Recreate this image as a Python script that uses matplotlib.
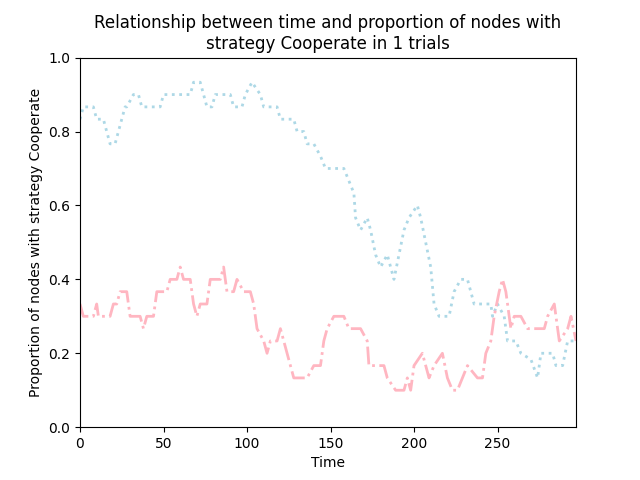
import numpy as np
import matplotlib.pyplot as plt

# proportions, in units of 1/30
coop_t = [0, 2, 8, 10, 14, 16, 18, 21, 23, 25, 27, 28, 32, 35, 37, 40, 48, 50, 52, 66, 68, 72, 74,
          76, 79, 81, 83, 90, 92, 97, 99, 103, 108, 110, 118, 120, 128, 130, 134, 136, 140, 144,
          147, 150, 158, 161, 164, 165, 168, 172, 174, 177, 180, 184, 188, 191, 194, 197, 202,
          204, 207, 210, 212, 215, 221, 224, 228, 232, 236, 246, 247, 250, 254, 256, 261, 264,
          270, 274, 276, 283, 285, 289, 292, 297]
coop_v = [25, 26, 26, 25, 25, 24, 23, 23, 24, 25, 26, 26, 27, 27, 26, 26, 26, 27, 27, 27, 28, 28, 27,
          26, 26, 27, 27, 27, 26, 26, 27, 28, 27, 26, 26, 25, 25, 24, 24, 23, 23, 22,
          21, 21, 21, 20, 19, 17, 16, 17, 16, 14, 13, 14, 12, 14, 16, 17, 18,
          17, 15, 13, 10, 9, 9, 11, 12, 12, 10, 10, 9, 10, 9, 7, 7, 6,
          5.5, 4, 6, 6, 5, 5, 7, 7]

other_t = [0, 2, 8, 10, 11, 18, 20, 22, 24, 28, 30, 36, 38, 40, 44, 46, 52, 54, 58, 60, 62, 66, 68,
           70, 72, 76, 78, 84, 86, 88, 92, 94, 98, 102, 104, 106, 110, 112, 114, 118, 120, 122,
           124, 128, 136, 140, 144, 146, 148, 152, 158, 161, 168, 172, 173, 182, 184, 189, 194,
           196, 198, 200, 205, 207, 209, 212, 217, 220, 223, 226, 229, 232, 238, 241, 243, 246,
           248, 251, 253, 255, 257, 258, 260, 264, 268, 278, 280, 284, 287, 292, 294, 297]
other_v = [10, 9, 9, 10, 9, 9, 10, 10, 11, 11, 9, 9, 8, 9, 9, 11, 11, 12, 12, 13, 12, 12, 10,
           9, 10, 10, 12, 12, 13, 11, 11, 12, 11, 11, 10, 8, 7, 6, 7, 7, 8, 7,
           6, 4, 4, 5, 5, 7, 8, 9, 9, 8, 8, 7, 5, 5, 4, 3, 3,
           4, 3, 5, 6, 5, 4, 5, 6, 4, 3, 3, 4, 5, 4, 4, 6, 7,
           9, 11, 12, 11, 9, 8, 9, 9, 8, 8, 9, 10, 7, 8, 9, 7]

coop = np.array(coop_v) / 30
other = np.array(other_v) / 30

fig, ax = plt.subplots(figsize=(6.4, 4.8), dpi=100)
ax.plot(coop_t, coop, color="lightblue", linestyle=":", linewidth=2)
ax.plot(other_t, other, color="lightpink", linestyle="-.", linewidth=2)

ax.set_xlim(0, 297)
ax.set_ylim(0, 1)
ax.set_xlabel("Time")
ax.set_ylabel("Proportion of nodes with strategy Cooperate")
ax.set_title("Relationship between time and proportion of nodes with\nstrategy Cooperate in 1 trials")

plt.savefig("out.png", dpi=100)
